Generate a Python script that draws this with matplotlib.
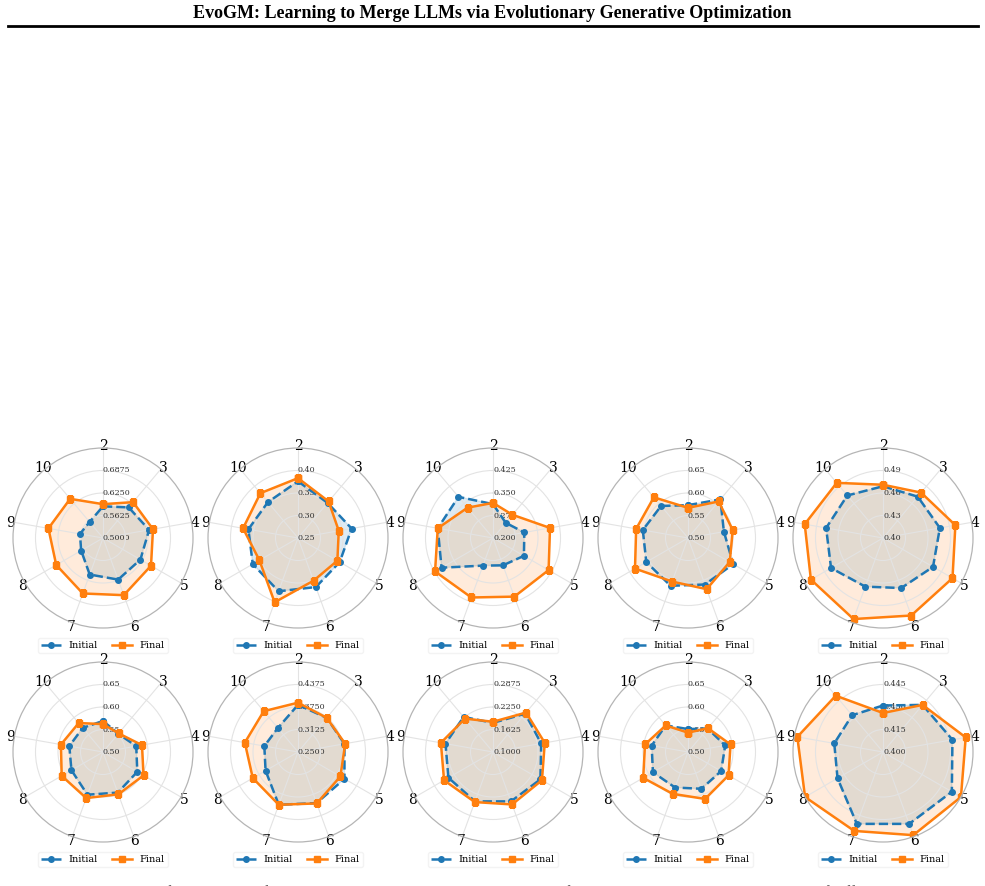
import numpy as np
import matplotlib
matplotlib.use("Agg")
import matplotlib.pyplot as plt
from matplotlib.lines import Line2D

plt.rcParams['font.family'] = ['DejaVu Serif']

W, H = 985, 886

# categories around each radar
categories = ["2", "3", "4", "5", "6", "7", "8", "9", "10"]

# radial ranges per panel (row-major)
r_lo = [0.50, 0.25, 0.20, 0.50, 0.40,
        0.50, 0.25, 0.10, 0.50, 0.400]
r_hi = [0.75, 0.45, 0.50, 0.70, 0.52,
        0.70, 0.50, 0.35, 0.70, 0.460]

initial = [
    [0.588, 0.611, 0.630, 0.620, 0.623, 0.608, 0.570, 0.565, 0.558],
    [0.376, 0.352, 0.371, 0.357, 0.366, 0.376, 0.366, 0.362, 0.354],
    [0.313, 0.266, 0.306, 0.319, 0.297, 0.298, 0.398, 0.387, 0.379],
    [0.573, 0.612, 0.581, 0.616, 0.610, 0.613, 0.607, 0.602, 0.593],
    [0.469, 0.472, 0.477, 0.477, 0.471, 0.469, 0.480, 0.477, 0.474],
    [0.569, 0.553, 0.575, 0.588, 0.596, 0.601, 0.581, 0.576, 0.570],
    [0.381, 0.374, 0.381, 0.399, 0.401, 0.406, 0.354, 0.345, 0.337],
    [0.181, 0.239, 0.236, 0.252, 0.246, 0.246, 0.243, 0.234, 0.227],
    [0.551, 0.568, 0.584, 0.585, 0.587, 0.584, 0.590, 0.582, 0.577],
    [0.431, 0.441, 0.447, 0.453, 0.451, 0.451, 0.435, 0.433, 0.432],
]
final = [
    [0.594, 0.630, 0.641, 0.654, 0.669, 0.664, 0.650, 0.654, 0.642],
    [0.383, 0.356, 0.342, 0.351, 0.351, 0.402, 0.349, 0.374, 0.380],
    [0.317, 0.301, 0.393, 0.414, 0.408, 0.411, 0.423, 0.387, 0.332],
    [0.567, 0.606, 0.601, 0.607, 0.621, 0.603, 0.636, 0.617, 0.618],
    [0.471, 0.479, 0.498, 0.507, 0.510, 0.515, 0.511, 0.506, 0.496],
    [0.562, 0.554, 0.588, 0.604, 0.600, 0.609, 0.606, 0.595, 0.584],
    [0.387, 0.374, 0.383, 0.386, 0.402, 0.406, 0.395, 0.400, 0.398],
    [0.184, 0.243, 0.246, 0.257, 0.255, 0.248, 0.257, 0.247, 0.221],
    [0.543, 0.569, 0.596, 0.604, 0.611, 0.599, 0.615, 0.597, 0.577],
    [0.426, 0.441, 0.456, 0.460, 0.459, 0.456, 0.460, 0.458, 0.449],
]

title = "EvoGM: Learning to Merge LLMs via Evolutionary Generative Optimization"
caption = ("Figure 5: Fitness of the initial and final populations on each task, "
           "with the number of merged models varying across the axes of different panels.")

BLUE = "#1f77b4"
ORANGE = "#ff7f0e"

fig = plt.figure(figsize=(W / 100, H / 100), dpi=100)

fig.text(0.5, 1 - 13 / H, title, ha='center', va='center',
         fontfamily='Liberation Serif', fontweight='bold', fontsize=13)
fig.add_artist(Line2D([8 / W, 978 / W], [1 - 26 / H, 1 - 26 / H],
                      color='black', lw=2))

angles = np.linspace(0, 2 * np.pi, len(categories), endpoint=False)
closed = np.concatenate([angles, angles[:1]])

radius = 90
for i in range(10):
    row, col = divmod(i, 5)
    cx = 103 + 195 * col
    cy = 538 + 214 * row
    ax = fig.add_axes([(cx - radius) / W, 1 - (cy + radius) / H,
                       2 * radius / W, 2 * radius / H], projection='polar')
    ax.set_theta_offset(np.pi / 2)
    ax.set_theta_direction(-1)

    v0 = np.array(initial[i] + initial[i][:1])
    v1 = np.array(final[i] + final[i][:1])

    ax.plot(closed, v0, color=BLUE, ls='--', lw=1.8, marker='o', ms=4, label='Initial')
    ax.fill(closed, v0, color=BLUE, alpha=0.15)
    ax.plot(closed, v1, color=ORANGE, ls='-', lw=1.8, marker='s', ms=4, label='Final')
    ax.fill(closed, v1, color=ORANGE, alpha=0.15)

    ax.set_ylim(r_lo[i], r_hi[i])
    ax.set_yticks(np.linspace(r_lo[i], r_hi[i], 5)[:-1])
    ax.set_rlabel_position(0)
    ax.tick_params(axis='y', labelsize=5.8, colors='#333333')
    for lbl in ax.get_yticklabels():
        lbl.set_va('center')
    ax.set_xticks(angles)
    ax.set_xticklabels(categories, fontsize=10)
    ax.tick_params(axis='x', pad=-8)
    for lbl in ax.get_xticklabels():
        lbl.set_va('center_baseline')
    ax.grid(color='#e3e3e3', lw=0.8)
    ax.spines['polar'].set_color('#b5b5b5')
    ax.spines['polar'].set_linewidth(0.9)

    ax.legend(loc='upper center', bbox_to_anchor=(0.5, -0.03), ncol=2,
              fontsize=7, frameon=True, edgecolor='#f0f0f0', handlelength=2.0,
              columnspacing=1.5, borderpad=0.3)

fig.text(0.5, -6 / H, caption, ha='center', va='center', fontsize=11,
         fontfamily='Liberation Serif', color='#222222')

fig.savefig("out.png", dpi=100)
